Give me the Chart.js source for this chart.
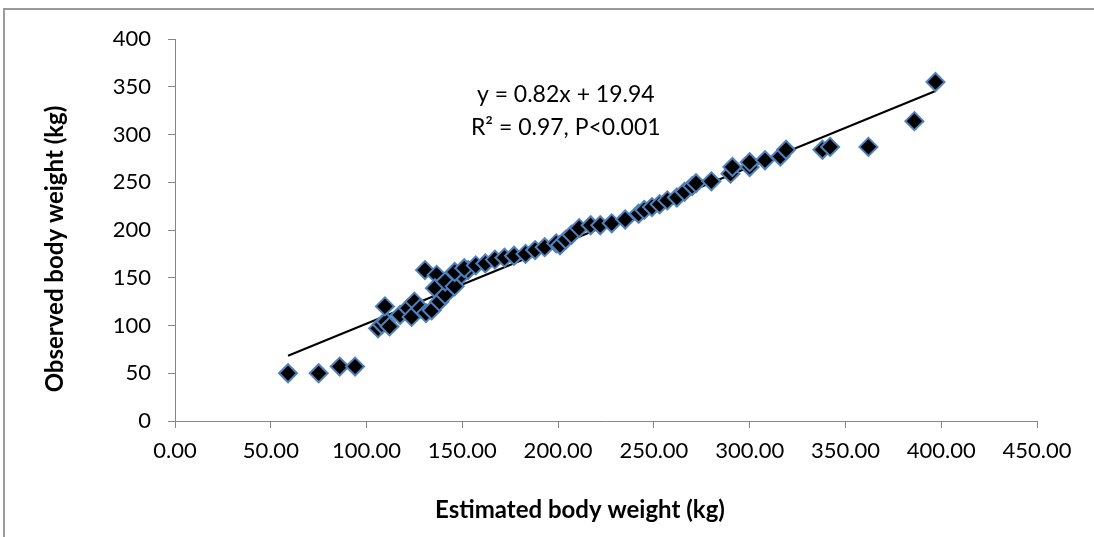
<!DOCTYPE html>
<html>
<head>
<meta charset="utf-8">
<script src="https://cdn.jsdelivr.net/npm/chart.js@4"></script>
<style>
  html, body { margin: 0; padding: 0; background: #fff; }
  #wrap { position: relative; width: 1094px; height: 537px; }
  #frame { position: absolute; left: 3px; top: 8px; right: 0; bottom: 0;
           border-left: 2px solid #9a9a9a; border-top: 2px solid #9a9a9a; }
  canvas { position: absolute; left: 0; top: 0; }
</style>
</head>
<body>
<div id="wrap">
  <div id="frame"></div>
  <canvas id="chart" width="1094" height="537"></canvas>
</div>
<script>
// Estimated vs observed body weight (kg)
const estimated = [
  59, 75, 86, 94,
  106, 108, 110, 112, 109.6, 117.5, 121.6, 123.5, 125, 128, 131, 134, 130.5, 136.6,
  135.7, 138, 141, 141, 146, 149.6, 153,
  146, 151, 157, 162, 167, 172, 177, 183, 188, 193, 199, 201, 204, 207, 211,
  217, 222, 228, 235, 242, 245, 249, 253, 257, 262, 266, 270,
  272, 280, 290, 291, 300, 300, 308, 316, 319,
  338, 342, 362, 386, 397
];
const observed = [
  50, 50, 57, 57,
  97, 101, 104, 99, 120, 111, 118, 109, 125, 118, 113, 116, 158, 153,
  139, 125, 132, 146, 141, 153, 158,
  156, 160, 163, 165, 169, 171, 173, 175, 179, 182, 186, 184, 190, 195, 202,
  205, 205, 207, 211, 217, 221, 224, 227, 231, 234, 240, 246,
  249, 251, 259, 266, 266, 271, 273, 277, 284,
  284, 287, 287, 314, 355
];
// Fitted line y = 0.82x + 19.94, ends
const trendX = [59, 397];
const trendY = [68.3, 345.5];

const xTicks = [0, 50, 100, 150, 200, 250, 300, 350, 400, 450];
const yTicks = [0, 50, 100, 150, 200, 250, 300, 350, 400];

const xTitle = "Estimated body weight (kg)";
const yTitle = "Observed body weight (kg)";
const equationLines = ["y = 0.82x + 19.94", "R\u00B2 = 0.97, P<0.001"];

const FONT = "Lato, 'Open Sans', sans-serif";
const AXIS_GREY = "#868686";

const points = estimated.map((x, i) => ({ x: x, y: observed[i] }));
const trend = trendX.map((x, i) => ({ x: x, y: trendY[i] }));

// axis titles and the equation label
const textPlugin = {
  id: "texts",
  afterDraw(chart) {
    const ctx = chart.ctx;
    ctx.save();
    ctx.fillStyle = "#000";
    ctx.textAlign = "center";
    ctx.textBaseline = "middle";
    ctx.font = "bold 24px " + FONT;
    ctx.fillText(xTitle, 580, 510);
    ctx.translate(55, 249);
    ctx.rotate(-Math.PI / 2);
    ctx.fillText(yTitle, 0, 0);
    ctx.restore();

    ctx.save();
    ctx.fillStyle = "#000";
    ctx.textAlign = "center";
    ctx.textBaseline = "middle";
    ctx.font = "23px " + FONT;
    const cx = chart.scales.x.getPixelForValue(204);
    ctx.fillText(equationLines[0], cx, 95);
    ctx.fillText(equationLines[1], cx, 128);
    ctx.restore();
  }
};

new Chart(document.getElementById("chart"), {
  type: "scatter",
  data: {
    datasets: [
      {
        type: "line",
        data: trend,
        borderColor: "#000",
        borderWidth: 2,
        pointRadius: 0,
        fill: false,
        order: 2
      },
      {
        data: points,
        pointStyle: "rectRot",
        pointRadius: 9,
        pointHoverRadius: 9,
        backgroundColor: "#000",
        borderColor: "#4F81BD",
        borderWidth: 2,
        order: 1
      }
    ]
  },
  options: {
    responsive: false,
    animation: false,
    events: [],
    layout: { padding: { top: 39, right: 57, left: 0, bottom: 0 } },
    plugins: {
      legend: { display: false },
      tooltip: { enabled: false }
    },
    scales: {
      x: {
        type: "linear",
        min: 0,
        max: 450,
        afterFit(scale) { scale.height = 116; },
        afterBuildTicks(scale) { scale.ticks = xTicks.map(v => ({ value: v })); },
        ticks: {
          color: "#000",
          font: { family: FONT, size: 22 },
          padding: 10,
          maxRotation: 0,
          callback: v => v.toFixed(2)
        },
        grid: { drawOnChartArea: false, drawTicks: true, tickLength: 7, color: AXIS_GREY },
        border: { color: AXIS_GREY, width: 1 }
      },
      y: {
        type: "linear",
        min: 0,
        max: 400,
        afterFit(scale) { scale.width = 175; },
        afterBuildTicks(scale) { scale.ticks = yTicks.map(v => ({ value: v })); },
        ticks: {
          color: "#000",
          font: { family: FONT, size: 22 },
          padding: 17
        },
        grid: { drawOnChartArea: false, drawTicks: true, tickLength: 7, color: AXIS_GREY },
        border: { color: AXIS_GREY, width: 1 }
      }
    }
  },
  plugins: [textPlugin]
});
</script>
</body>
</html>
